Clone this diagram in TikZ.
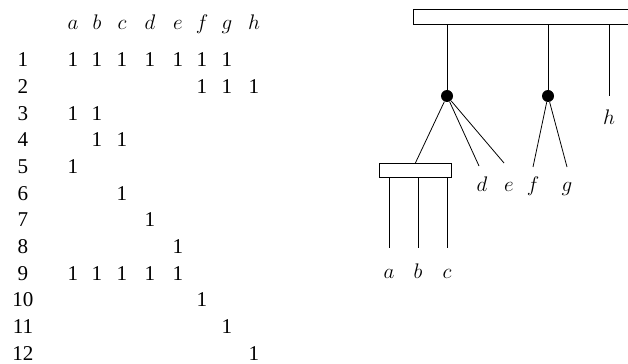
\documentclass[tikz,border=0pt]{standalone}
\usepackage{fontspec}
\setmainfont{Liberation Serif}
\usetikzlibrary{positioning}

\begin{document}
\begin{tikzpicture}[
    x=0.02cm, y=-0.02cm, line width=0.45pt,
    font=\fontsize{12}{14}\selectfont,
    cell/.style={anchor=base, inner sep=0pt},
    bar/.style={rectangle, draw, inner sep=0pt, minimum height=0.3cm, anchor=north west},
    joint/.style={circle, fill, inner sep=0pt, minimum size=0.24cm},
    leaf/.style={anchor=base, inner sep=0pt}
]
    \useasboundingbox (0,0) rectangle (628,364);

    % incidence table
    \foreach \x/\v in {73/a, 97/b, 122/c, 150/d, 178/e, 202/f, 227/g, 254/h}
        \node [cell] (col-\v) at (\x,29.5) {$\v$};
    \foreach \r in {1,...,12}
        \node [cell] (row-\r) at (23,40.3+26.65*\r) {\r};
    \foreach \r/\v in {1/a,1/b,1/c,1/d,1/e,1/f,1/g, 2/f,2/g,2/h, 3/a,3/b, 4/b,4/c,
                       5/a, 6/c, 7/d, 8/e, 9/a,9/b,9/c,9/d,9/e, 10/f, 11/g, 12/h}
        \node [cell] (one-\r\v) at (col-\v.base |- row-\r.base) {1};

    % tree
    \node [bar, minimum width=4.7cm] (top) at (413,9) {};
    \node [joint] (j1) at (447,96) {};
    \node [joint] (j2) at (548,96) {};
    \node [bar, minimum width=1.44cm, minimum height=0.29cm] (low) at (379,163) {};

    \coordinate (hend) at (609,96);
    \coordinate (dend) at (479,166);
    \coordinate (eend) at (504,163);
    \coordinate (fend) at (533,167);
    \coordinate (gend) at (567,167);
    \coordinate (aend) at (389,248);
    \coordinate (bend) at (418,248);
    \coordinate (cend) at (447,248);

    \node [leaf] (lh) at (609,125) {$h$};
    \node [leaf] (ld) at (482,192) {$d$};
    \node [leaf] (le) at (509,192) {$e$};
    \node [leaf] (lf) at (533,192) {$f$};
    \node [leaf] (lg) at (567,192) {$g$};
    \node [leaf] (la) at (389,278) {$a$};
    \node [leaf] (lb) at (418,278) {$b$};
    \node [leaf] (lc) at (447,278) {$c$};

    \draw (j1) -- (j1 |- top.south);
    \draw (j2) -- (j2 |- top.south);
    \draw (hend) -- (hend |- top.south);
    \draw (j1) -- (low.north);
    \draw (j1) -- (dend);
    \draw (j1) -- (eend);
    \draw (j2) -- (fend);
    \draw (j2) -- (gend);
    \draw (aend) -- (aend |- low.south);
    \draw (bend) -- (bend |- low.south);
    \draw (cend) -- (cend |- low.south);
\end{tikzpicture}
\end{document}
